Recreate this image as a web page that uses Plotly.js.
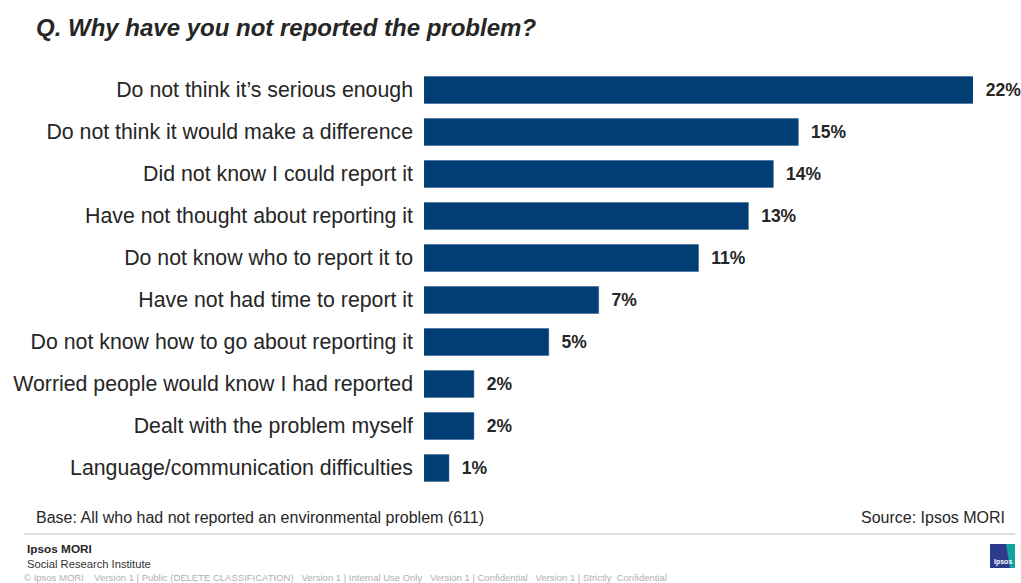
<!DOCTYPE html>
<html><head><meta charset="utf-8">
<script src="https://cdn.plot.ly/plotly-3.0.1.min.js"></script>
<style>html,body{margin:0;padding:0;background:#fff}#chart{width:1021px;height:583px}</style>
</head><body><div id="chart"></div>
<script>
const categories = [
  "Do not think it\u2019s serious enough",
  "Do not think it would make a difference",
  "Did not know I could report it",
  "Have not thought about reporting it",
  "Do not know who to report it to",
  "Have not had time to report it",
  "Do not know how to go about reporting it",
  "Worried people would know I had reported",
  "Dealt with the problem myself",
  "Language/communication difficulties"
];
const values = [22, 15, 14, 13, 11, 7, 5, 2, 2, 1];
const valueLabels = values.map(v => v + "%");

const FONT = "Liberation Sans, Arial, sans-serif";
const trace = {
  type: "bar", orientation: "h",
  x: values, y: categories,
  marker: {color: "#003E74", line: {color: "#2a5a8c", width: 0.5}},
  width: 0.64,
  text: valueLabels.map(t => "<b>" + t + "</b>"),
  texttemplate: "  %{text}",
  textposition: "outside",
  textfont: {family: FONT, size: 17.5, color: "#262626"},
  cliponaxis: false,
  hoverinfo: "skip"
};

const layout = {
  width: 1021, height: 583,
  margin: {l: 424, r: 48, t: 69, b: 94},
  paper_bgcolor: "#fff", plot_bgcolor: "#fff",
  showlegend: false,
  font: {family: FONT, color: "#262626"},
  xaxis: {range: [0, 22], visible: false, fixedrange: true},
  yaxis: {
    type: "category", autorange: "reversed",
    tickfont: {family: FONT, size: 21.3, color: "#262626"},
    ticks: "", showline: false, showgrid: false, zeroline: false,
    ticklabelstandoff: 10
  },
  title: {
    text: "<b><i>Q. Why have you not reported the problem?</i></b>",
    font: {family: FONT, size: 24, color: "#262626"},
    x: 36/1021, xanchor: "left", xref: "container",
    y: 1 - 28/583, yanchor: "middle", yref: "container"
  },
  shapes: [
    {type: "line", xref: "paper", yref: "paper", x0: -400/549, x1: 591/549,
     y0: -45/420, y1: -45/420, line: {color: "#bdbdbd", width: 1}},
    {type: "rect", xref: "paper", yref: "paper",
     x0: (990-424)/549, x1: (1015-424)/549, y0: -(568-489)/420, y1: -(544-489)/420,
     fillcolor: "#2e3a8c", line: {width: 0}},
    {type: "path", xref: "paper", yref: "paper",
     path: "", fillcolor: "#12a3a0", line: {width: 0}}
  ],
  annotations: [
    {text: "Base: All who had not reported an environmental problem (611)",
     xref: "paper", yref: "paper", x: (34-424)/549, y: -(517-489)/420,
     xanchor: "left", yanchor: "middle", showarrow: false,
     font: {family: FONT, size: 16, color: "#262626"}},
    {text: "Source: Ipsos MORI",
     xref: "paper", yref: "paper", x: (1007-424)/549, y: -(517-489)/420,
     xanchor: "right", yanchor: "middle", showarrow: false,
     font: {family: FONT, size: 16, color: "#262626"}},
    {text: "<b>Ipsos MORI</b>",
     xref: "paper", yref: "paper", x: (25-424)/549, y: -(549-489)/420,
     xanchor: "left", yanchor: "middle", showarrow: false,
     font: {family: FONT, size: 11.8, color: "#262626"}},
    {text: "Social Research Institute",
     xref: "paper", yref: "paper", x: (25-424)/549, y: -(564-489)/420,
     xanchor: "left", yanchor: "middle", showarrow: false,
     font: {family: FONT, size: 11.2, color: "#333"}},
    {text: "\u00a9 Ipsos MORI&nbsp;&nbsp;&nbsp;&nbsp;Version 1 | Public (DELETE CLASSIFICATION)&nbsp;&nbsp;&nbsp;Version 1 | Internal Use Only&nbsp;&nbsp;&nbsp;Version 1 | Confidential&nbsp;&nbsp;&nbsp;Version 1 | Strictly&nbsp; Confidential",
     xref: "paper", yref: "paper", x: (22-424)/549, y: -(577-489)/420,
     xanchor: "left", yanchor: "middle", showarrow: false,
     font: {family: FONT, size: 9.5, color: "#b0b0b0"}},
    {text: "<b>Ipsos</b>",
     xref: "paper", yref: "paper", x: (1002.5-424)/549, y: -(562-489)/420,
     xanchor: "center", yanchor: "middle", showarrow: false,
     font: {family: FONT, size: 7, color: "#ffffff"}}
  ]
};
const lx1 = (1015-424)/549, ly0 = -(568-489)/420, ly1 = -(544-489)/420;
const lm = (1006-424)/549;
layout.shapes[2].path = "M " + lm + " " + ly1 + " L " + lx1 + " " + ly1 + " L " + lx1 + " " + ly0 + " L " + ((1010-424)/549) + " " + ly0 + " Z";

Plotly.newPlot("chart", [trace], layout, {displayModeBar: false, staticPlot: true});
</script>
</body></html>
